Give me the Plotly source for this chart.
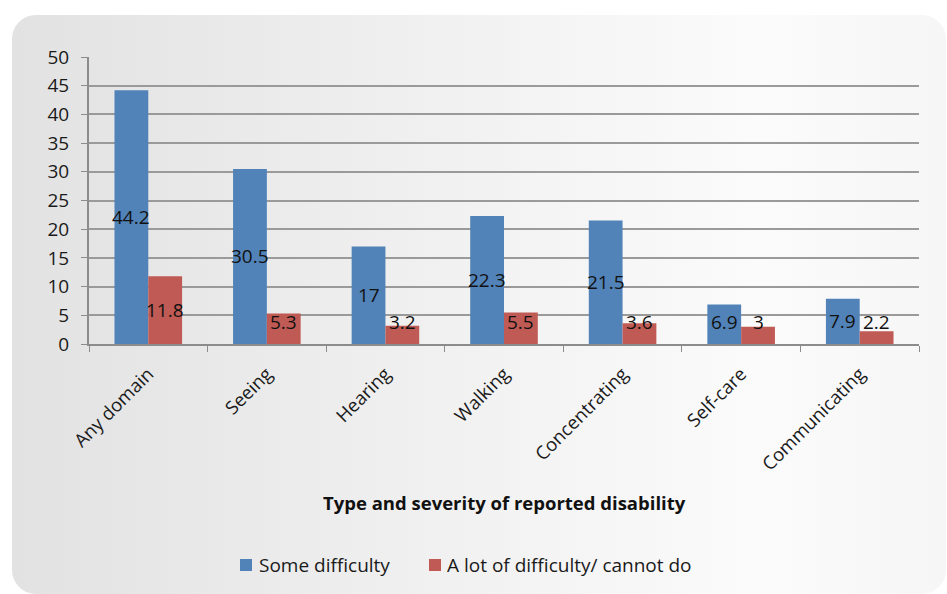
import base64
import plotly.graph_objects as go

# Share of respondents reporting each type of disability, by severity
categories = ["Any domain", "Seeing", "Hearing", "Walking",
              "Concentrating", "Self-care", "Communicating"]
some_difficulty = [44.2, 30.5, 17, 22.3, 21.5, 6.9, 7.9]
severe_difficulty = [11.8, 5.3, 3.2, 5.5, 3.6, 3, 2.2]
series_names = ["Some difficulty", "A lot of difficulty/ cannot do"]
y_ticks = [0, 5, 10, 15, 20, 25, 30, 35, 40, 45, 50]

FONT = "Open Sans"
BLUE = "#5283B8"
RED = "#C05A54"
TEXT = "#1a1a1a"

# Plot area spans x 89..919 px and y 57..344 px of the 947x594 page
L, R, T, B = 89, 28, 57, 250
pw, ph = 947 - L - R, 594 - T - B
BARGAP = 0.43

def px_x(p):
    return (p - L) / pw

def px_y(p):
    return (594 - B - p) / ph

# Rounded panel with a soft horizontal grey gradient, used as the backdrop
panel_svg = """<svg xmlns='http://www.w3.org/2000/svg' width='934' height='579' viewBox='0 0 934 579' preserveAspectRatio='none'>
<defs><linearGradient id='g' x1='0' y1='0' x2='1' y2='0'>
<stop offset='0' stop-color='#e2e2e2'/>
<stop offset='0.5' stop-color='#f2f2f2'/>
<stop offset='0.8' stop-color='#fbfbfb'/>
<stop offset='1' stop-color='#f6f6f6'/>
</linearGradient></defs>
<rect x='0' y='0' width='934' height='579' rx='24' ry='24' fill='url(#g)'/>
</svg>"""
panel_uri = "data:image/svg+xml;base64," + base64.b64encode(panel_svg.encode()).decode()

fig = go.Figure()
series = [(series_names[0], some_difficulty, BLUE),
          (series_names[1], severe_difficulty, RED)]
for name, vals, color in series:
    fig.add_trace(go.Bar(
        name=name, x=categories, y=vals, marker_color=color,
        marker_line_width=0, showlegend=False,
    ))

# Value labels sit at the middle of each bar, kept clear of the baseline
bar_px = pw / len(categories) * (1 - BARGAP) / 2
annotations = []
for k, (name, vals, color) in enumerate(series):
    shift = (k - 0.5) * bar_px
    for cat, v in zip(categories, vals):
        annotations.append(dict(
            x=cat, y=max(v / 2, 3.9), xref="x", yref="y", xshift=shift,
            text=f"{v:g}", showarrow=False, xanchor="center", yanchor="middle",
            font=dict(family=FONT, size=19, color="#111111"),
        ))

annotations.append(dict(
    text="<b>Type and severity of reported disability</b>",
    xref="paper", yref="paper", x=px_x(504), y=px_y(502),
    xanchor="center", yanchor="middle", showarrow=False,
    font=dict(family=FONT, size=18.5, color="#111111"),
))

# Legend drawn as colour keys with their labels underneath the axis title
shapes = []
legend_keys = [(240, 257), (429, 445)]
for (sx, tx), (name, vals, color) in zip(legend_keys, series):
    shapes.append(dict(type="rect", xref="paper", yref="paper",
                       x0=px_x(sx), x1=px_x(sx + 12),
                       y0=px_y(571), y1=px_y(559),
                       fillcolor=color, line_width=0))
    annotations.append(dict(text=name, xref="paper", yref="paper",
                            x=px_x(tx), y=px_y(565), xanchor="left",
                            yanchor="middle", showarrow=False,
                            font=dict(family=FONT, size=19, color=TEXT)))

fig.update_layout(
    width=947, height=594,
    margin=dict(l=L, r=R, t=T, b=B),
    paper_bgcolor="white", plot_bgcolor="rgba(0,0,0,0)",
    barmode="group", bargap=BARGAP, bargroupgap=0,
    font=dict(family=FONT, color=TEXT),
    showlegend=False,
    images=[dict(source=panel_uri, xref="paper", yref="paper",
                 x=px_x(12), y=px_y(15), sizex=934 / pw, sizey=579 / ph,
                 xanchor="left", yanchor="top", sizing="stretch",
                 layer="below")],
    xaxis=dict(
        tickangle=-45, tickson="boundaries", ticks="outside", ticklen=6,
        tickcolor="#8c8c8c", showline=True, linecolor="#8c8c8c", linewidth=2,
        tickfont=dict(family=FONT, size=18.5, color=TEXT),
        ticklabelstandoff=10, showgrid=False,
    ),
    yaxis=dict(
        range=[0, 50], tickvals=y_ticks, ticks="outside", ticklen=6,
        tickcolor="#8c8c8c", showline=True, linecolor="#8c8c8c", linewidth=2,
        gridcolor="#9a9a9a", gridwidth=2, zeroline=False,
        tickfont=dict(family=FONT, size=19, color=TEXT),
        ticklabelstandoff=8,
    ),
    shapes=shapes,
    annotations=annotations,
)

fig.write_html("out.html")
